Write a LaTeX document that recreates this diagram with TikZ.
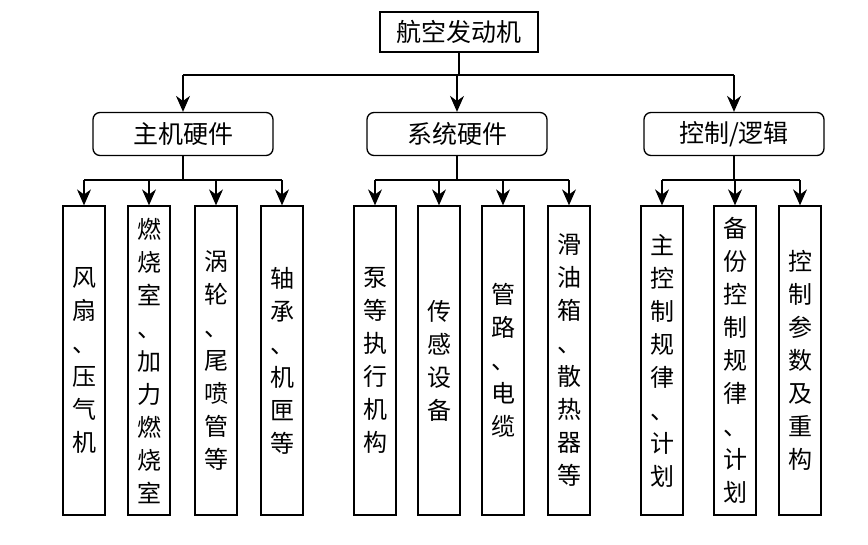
\documentclass[tikz,border=0pt]{standalone}
\usepackage{fontspec}
\newfontfamily\cjk{Noto Sans CJK SC}
\usetikzlibrary{arrows.meta}
\begin{document}
\begin{tikzpicture}[x=1pt,y=-1pt,
  box/.style={draw,line width=1.3pt,inner sep=0pt,font=\cjk\fontsize{25}{25}\selectfont},
  mid/.style={box,rounded corners=7pt,minimum width=180pt,minimum height=43pt},
  leaf/.style={box,minimum width=42pt,minimum height=309pt,align=center,font=\cjk\fontsize{24}{33}\selectfont},
  arr/.style={line width=1.3pt,-{Stealth[length=16pt,width=14pt]}},
  ln/.style={line width=1.3pt}]
\useasboundingbox (0,0) rectangle (868,544);
\node[box,minimum width=158pt,minimum height=40pt] (top) at (459,32) {航空发动机};
\node[mid] (m1) at (183,134) {主机硬件};
\node[mid] (m2) at (457,134) {系统硬件};
\node[mid] (m3) at (734,134) {控制/逻辑};
\coordinate (h) at (459,75);
\draw[ln] (top.south) -- (h);
\draw[ln] (m1.north|-h) -- (m3.north|-h);
\foreach \m in {m1,m2,m3} \draw[arr] (\m.north|-h) -- (\m.north);
\def\lt{360.5}
\node[leaf] (a1) at (84,\lt) {风\\扇\\、\\压\\气\\机};
\node[leaf] (a2) at (149,\lt) {燃\\烧\\室\\、\\加\\力\\燃\\烧\\室};
\node[leaf] (a3) at (216,\lt) {涡\\轮\\、\\尾\\喷\\管\\等};
\node[leaf] (a4) at (282,\lt) {轴\\承\\、\\机\\匣\\等};
\node[leaf] (b1) at (375,\lt) {泵\\等\\执\\行\\机\\构};
\node[leaf] (b2) at (439,\lt) {传\\感\\设\\备};
\node[leaf] (b3) at (503,\lt) {管\\路\\、\\电\\缆};
\node[leaf] (b4) at (569,\lt) {滑\\油\\箱\\、\\散\\热\\器\\等};
\node[leaf] (c1) at (662,\lt) {主\\控\\制\\规\\律\\、\\计\\划};
\node[leaf] (c2) at (735,\lt) {备\\份\\控\\制\\规\\律\\、\\计\\划};
\node[leaf] (c3) at (800,\lt) {控\\制\\参\\数\\及\\重\\构};
\coordinate (g) at (0,180);
\draw[ln] (m1.south) -- (m1.south|-g);
\draw[ln] (a1.north|-g) -- (a4.north|-g);
\draw[ln] (m2.south) -- (m2.south|-g);
\draw[ln] (b1.north|-g) -- (b4.north|-g);
\draw[ln] (m3.south) -- (m3.south|-g);
\draw[ln] (c1.north|-g) -- (c3.north|-g);
\foreach \n in {a1,a2,a3,a4,b1,b2,b3,b4,c1,c2,c3} \draw[arr] (\n.north|-g) -- (\n.north);
\end{tikzpicture}
\end{document}
